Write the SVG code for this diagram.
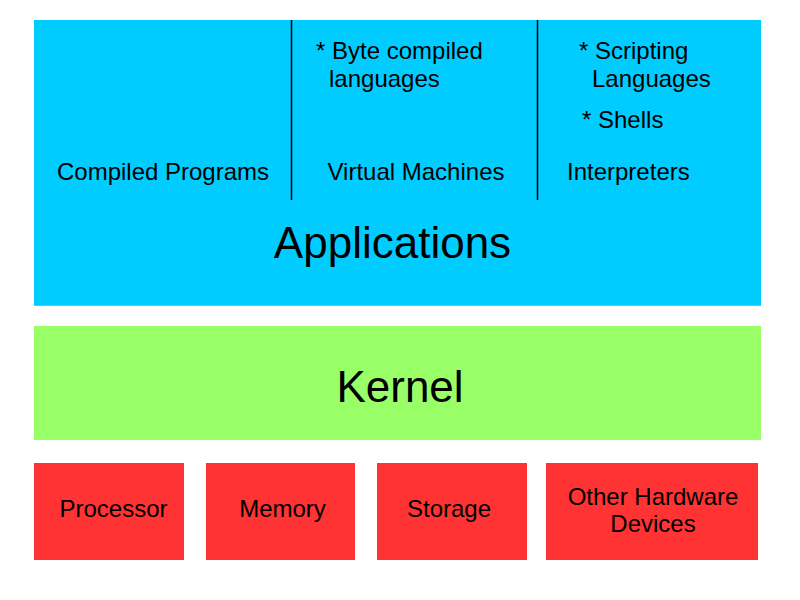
<svg xmlns="http://www.w3.org/2000/svg" width="800" height="600" viewBox="0 0 800 600">
<style>
text{font-family:"Liberation Sans",Arial,sans-serif;fill:#000}
.s{font-size:24px}
.b{font-size:44px}
.div{stroke:#000;stroke-width:1.5}
</style>
<rect width="800" height="600" fill="#fff"/>
<g id="applications">
<rect x="34" y="20" width="727" height="286" fill="#00ccff"/>
<line x1="34" y1="305.5" x2="761" y2="305.5" stroke="#33d6ff" stroke-width="1"/>
<text class="b" x="392.5" y="258" text-anchor="middle">Applications</text>
</g>
<g id="compiled-programs">
<text class="s" x="163" y="180" text-anchor="middle">Compiled Programs</text>
</g>
<g id="virtual-machines">
<text class="s" x="316" y="59">* Byte compiled</text>
<text class="s" x="329" y="87">languages</text>
<text class="s" x="416" y="180" text-anchor="middle">Virtual Machines</text>
</g>
<g id="interpreters">
<text class="s" x="579" y="59">* Scripting</text>
<text class="s" x="592" y="87">Languages</text>
<text class="s" x="582" y="128">* Shells</text>
<text class="s" x="567" y="180">Interpreters</text>
</g>
<g id="dividers">
<line class="div" x1="291.5" y1="20" x2="291.5" y2="200"/>
<line class="div" x1="537.5" y1="20" x2="537.5" y2="200"/>
</g>
<g id="kernel">
<rect x="34" y="326" width="727" height="114" fill="#99ff66"/>
<text class="b" x="400" y="402" text-anchor="middle">Kernel</text>
</g>
<g id="processor">
<rect x="34" y="463" width="150" height="97" fill="#ff3333"/>
<text class="s" x="113.5" y="517" text-anchor="middle">Processor</text>
</g>
<g id="memory">
<rect x="206" y="463" width="149" height="97" fill="#ff3333"/>
<text class="s" x="282.5" y="517" text-anchor="middle">Memory</text>
</g>
<g id="storage">
<rect x="377" y="463" width="150" height="97" fill="#ff3333"/>
<text class="s" x="449" y="517" text-anchor="middle">Storage</text>
</g>
<g id="other-hardware">
<rect x="546" y="463" width="212" height="97" fill="#ff3333"/>
<text class="s" x="653" y="505" text-anchor="middle">Other Hardware</text>
<text class="s" x="653" y="532" text-anchor="middle">Devices</text>
</g>
</svg>
